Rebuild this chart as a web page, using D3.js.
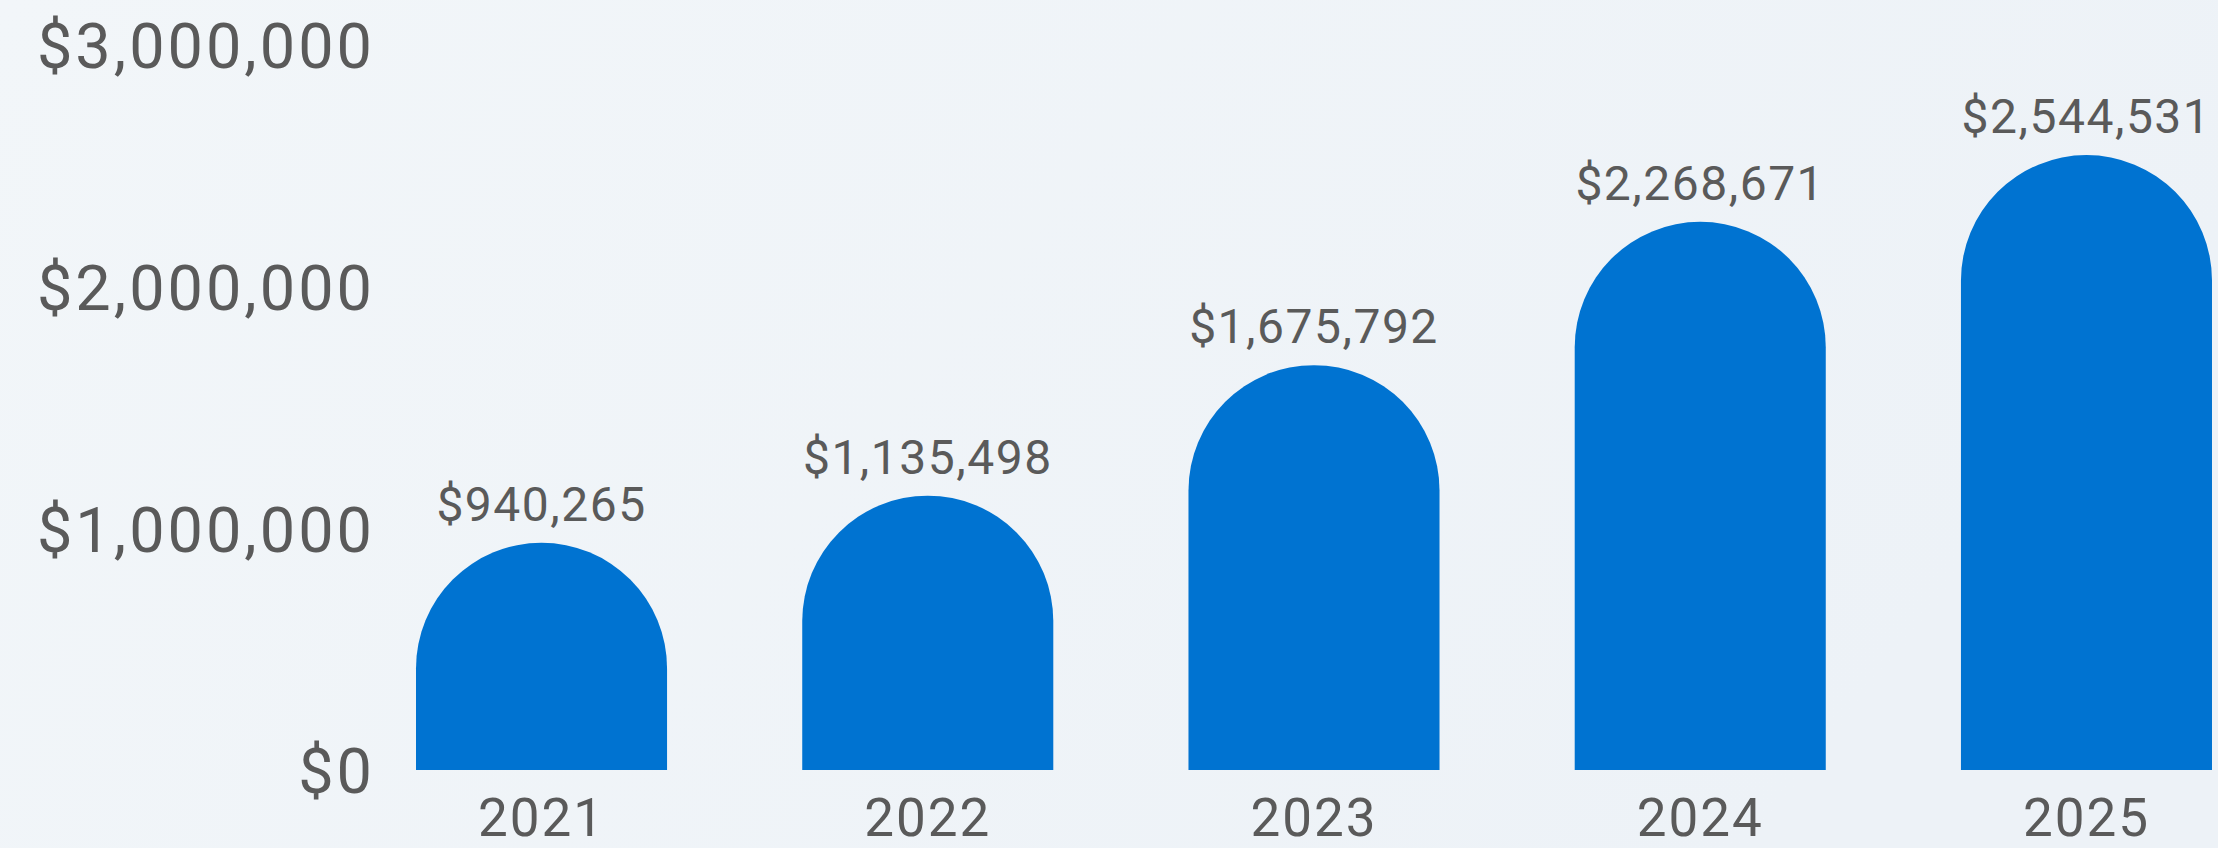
<!DOCTYPE html>
<html>
<head>
<meta charset="utf-8">
<script src="https://cdn.jsdelivr.net/npm/d3@7"></script>
<style>
  html, body { margin: 0; padding: 0; }
  body { width: 2218px; height: 848px; overflow: hidden; }
  #grafico text { font-family: Roboto, "Open Sans", sans-serif; fill: #5a5a5a; }
</style>
</head>
<body>
<div id="grafico"></div>
<script>
// dados
const anos = ["2021", "2022", "2023", "2024", "2025"];
const valores = [940265, 1135498, 1675792, 2268671, 2544531];
const ticksY = [0, 1000000, 2000000, 3000000];

// medidas
const W = 2218, H = 848;
const base = 770, topo = 45;

const svg = d3.select("#grafico")
  .append("svg")
    .attr("width", W)
    .attr("height", H);

// fundo
const grad = svg.append("defs").append("linearGradient")
  .attr("id", "fundo").attr("x1", "0").attr("y1", "0").attr("x2", "1").attr("y2", "0.3");
grad.append("stop").attr("offset", "0").attr("stop-color", "#f2f6f9");
grad.append("stop").attr("offset", "1").attr("stop-color", "#edf2f7");
svg.append("rect").attr("width", W).attr("height", H).attr("fill", "url(#fundo)");

// escalas
const x = d3.scaleBand()
  .domain(anos)
  .range([416, 2212])
  .paddingInner(0.35)
  .paddingOuter(0);

const y = d3.scaleLinear()
  .domain([0, 3000000])
  .range([base, topo]);

const fmt = d => "$" + d3.format(",")(d);

// eixo Y
const eixoY = svg.append("g")
  .attr("transform", "translate(375,0)")
  .call(d3.axisLeft(y).tickValues(ticksY).tickFormat(fmt).tickSize(0).tickPadding(0));
eixoY.select(".domain").remove();
eixoY.selectAll("text")
  .attr("font-size", "63px")
  .attr("letter-spacing", "3px")
  .attr("dy", "0.36em");

// eixo X
const eixoX = svg.append("g")
  .attr("transform", `translate(0,${base})`)
  .call(d3.axisBottom(x).tickSize(0).tickPadding(0));
eixoX.select(".domain").remove();
eixoX.selectAll("text")
  .attr("font-size", "53px")
  .attr("letter-spacing", "2px")
  .attr("y", 66)
  .attr("dy", 0);

// barras com topo arredondado
const dados = anos.map((a, i) => ({ ano: a, valor: valores[i] }));
const r = x.bandwidth() / 2;

svg.append("g")
  .selectAll("path")
  .data(dados)
  .join("path")
    .attr("fill", "#0073d1")
    .attr("d", d => {
      const x0 = x(d.ano), w = x.bandwidth(), yt = y(d.valor);
      return `M${x0},${base} L${x0},${yt + r} A${r},${r} 0 0 1 ${x0 + w},${yt + r} L${x0 + w},${base} Z`;
    });

// rótulos
svg.append("g")
  .selectAll("text")
  .data(dados)
  .join("text")
    .attr("x", d => x(d.ano) + r)
    .attr("y", d => y(d.valor) - 22)
    .attr("text-anchor", "middle")
    .attr("font-size", "48px")
    .attr("letter-spacing", "1.5px")
    .text(d => fmt(d.valor));
</script>
</body>
</html>
